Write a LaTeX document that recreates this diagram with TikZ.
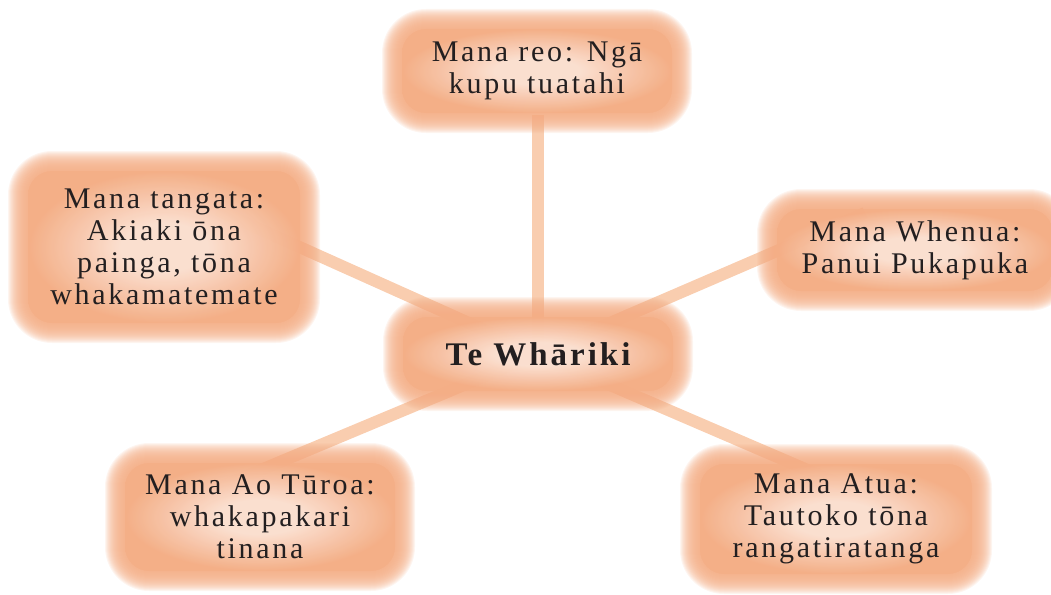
\documentclass[tikz,border=0pt]{standalone}
\usepackage{fontspec}
\setmainfont{Liberation Serif}[LetterSpace=9]
\definecolor{boxin}{HTML}{FCE7DB}
\definecolor{boxout}{HTML}{F4AE86}
\definecolor{linkc}{HTML}{F9CDAF}
\definecolor{ink}{HTML}{231F20}
\pgfdeclareradialshading{softfill}{\pgfpoint{0bp}{0bp}}{color(0bp)=(boxin); color(8bp)=(boxin); color(25bp)=(boxout); color(50bp)=(boxout)}
\pgfdeclarelayer{bg}
\pgfsetlayers{bg,main}
\tikzset{
  boxtext/.style={align=center, text=ink, inner sep=0pt, font=\fontsize{30}{32}\selectfont},
  hubtext/.style={boxtext, font=\fontsize{33}{36}\selectfont\bfseries},
  link/.style={draw=linkc, line width=12pt},
}
\newcommand\softbox[7]{%
  \foreach \d in {-10,-9,...,10}{%
    \pgfmathsetmacro\rr{34+(\d)}%
    \pgfmathsetmacro\xa{#2-#4/2-(\d)}%
    \pgfmathsetmacro\xb{#2+#4/2+(\d)}%
    \pgfmathsetmacro\ya{#3-#5/2-(\d)}%
    \pgfmathsetmacro\yb{#3+#5/2+(\d)}%
    \fill[boxout, fill opacity=0.12, rounded corners=\rr pt] (\xa,\ya) rectangle (\xb,\yb);
  }%
  \pgfmathsetmacro\xa{#2-#4/2+10}%
  \pgfmathsetmacro\xb{#2+#4/2-10}%
  \pgfmathsetmacro\ya{#3-#5/2+10}%
  \pgfmathsetmacro\yb{#3+#5/2-10}%
  \shade[shading=softfill, fill opacity=0.86, rounded corners=24pt] (\xa,\ya) rectangle (\xb,\yb);
  \node[#7] (#1) at (#2,#3) {#6};
}
\begin{document}
\begin{tikzpicture}[x=1pt,y=-1pt]
\useasboundingbox (0,0) rectangle (1051,594);
\clip (0,0) rectangle (1051,594);
\softbox{top}{537}{71}{290}{104}{Mana reo: Ngā\\kupu tuatahi}{boxtext}
\softbox{left}{164}{247}{292}{172}{Mana tangata:\\Akiaki ōna\\painga, tōna\\whakamatemate}{boxtext}
\softbox{right}{915}{250}{296}{102}{Mana Whenua:\\Panui Pukapuka}{boxtext}
\softbox{bl}{260}{517}{290}{128}{Mana Ao Tūroa:\\whakapakari\\tinana}{boxtext}
\softbox{br}{836}{519}{292}{130}{Mana Atua:\\Tautoko tōna\\rangatiratanga}{boxtext}
\softbox{hub}{538}{354}{290}{94}{Te Whāriki}{hubtext}
\coordinate (eT) at (538,115);
\coordinate (eL) at (217,210);
\coordinate (eR) at (865,213);
\coordinate (eBL) at (220,487);
\coordinate (eBR) at (847,487);
\begin{pgfonlayer}{bg}
\draw[link] (hub.center) -- (eT);
\draw[link] (hub.center) -- (eL);
\draw[link] (hub.center) -- (eR);
\draw[link] (hub.center) -- (eBL);
\draw[link] (hub.center) -- (eBR);
\end{pgfonlayer}
\end{tikzpicture}
\end{document}
